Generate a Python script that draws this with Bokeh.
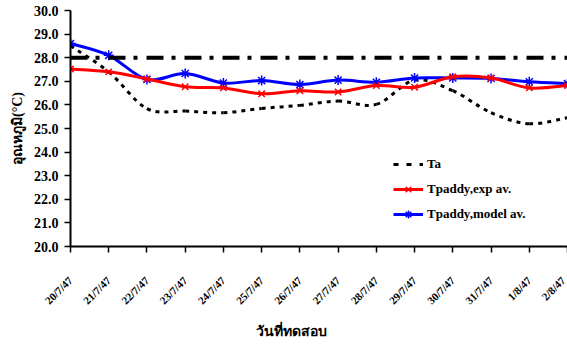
import numpy as np
from bokeh.plotting import figure
from bokeh.models import (FixedTicker, Legend, LegendItem, ColumnDataSource, Title,
                          Span, Range1d, PrintfTickFormatter)
from bokeh.embed import file_html
from bokeh.resources import INLINE

# ---------------- data ----------------
dates = ["20/7/47", "21/7/47", "22/7/47", "23/7/47", "24/7/47", "25/7/47", "26/7/47",
         "27/7/47", "28/7/47", "29/7/47", "30/7/47", "31/7/47", "1/8/47", "2/8/47"]
ta = [28.50, 27.40, 25.84, 25.74, 25.67, 25.85, 25.98, 26.16, 26.02, 27.05, 26.60, 25.67, 25.20, 25.46]
t_exp = [27.52, 27.40, 27.10, 26.77, 26.72, 26.47, 26.60, 26.55, 26.82, 26.75, 27.19, 27.14, 26.72, 26.82]
t_model = [28.60, 28.10, 27.08, 27.33, 26.93, 27.03, 26.86, 27.05, 26.96, 27.14, 27.14, 27.12, 26.98, 26.90]
ref_temp = 28.0
y_ticks = [20, 21, 22, 23, 24, 25, 26, 27, 28, 29, 30]

series_names = ["Ta", "Tpaddy,exp av.", "Tpaddy,model av."]
y_title = "อุณหภูมิ(°C)"
x_title = "วันที่ทดสอบ"

xs = list(range(len(dates)))
nan = float("nan")


def smooth_segments(x, y):
    """Bezier control points (Catmull-Rom style) for an Excel-like smoothed line."""
    X = np.asarray(x, float)
    Y = np.asarray(y, float)
    Xp = np.concatenate([[X[0]], X, [X[-1]]])
    Yp = np.concatenate([[Y[0]], Y, [Y[-1]]])
    i = np.arange(len(X) - 1)
    return dict(
        x0=Xp[i + 1], y0=Yp[i + 1], x1=Xp[i + 2], y1=Yp[i + 2],
        cx0=Xp[i + 1] + (Xp[i + 2] - Xp[i]) / 6.0,
        cy0=Yp[i + 1] + (Yp[i + 2] - Yp[i]) / 6.0,
        cx1=Xp[i + 2] - (Xp[i + 3] - Xp[i + 1]) / 6.0,
        cy1=Yp[i + 2] - (Yp[i + 3] - Yp[i + 1]) / 6.0,
    )


p = figure(width=567, height=349, output_backend="svg", toolbar_location=None,
           x_range=Range1d(0, len(dates) - 1), y_range=Range1d(20, 30),
           min_border_left=70, min_border_right=0, min_border_top=10, min_border_bottom=103)
p.outline_line_color = None
p.background_fill_color = "white"
p.border_fill_color = "white"
p.xgrid.visible = False
p.ygrid.visible = False

serif = "Liberation Serif"

# reference line
p.add_layout(Span(location=ref_temp, dimension="width", line_color="black",
                  line_width=4, line_dash="17 8 4 9"))

# Ta (dotted)
s_ta = smooth_segments(xs, ta)
p.bezier(source=ColumnDataSource(s_ta), x0="x0", y0="y0", x1="x1", y1="y1",
         cx0="cx0", cy0="cy0", cx1="cx1", cy1="cy1",
         line_color="black", line_width=3, line_dash="4 5")
leg_ta = p.line(x=[nan], y=[nan], line_color="black", line_width=3, line_dash="5 8")

# model (blue)
s_m = smooth_segments(xs, t_model)
p.bezier(source=ColumnDataSource(s_m), x0="x0", y0="y0", x1="x1", y1="y1",
         cx0="cx0", cy0="cy0", cx1="cx1", cy1="cy1",
         line_color="#0000ff", line_width=3)
leg_m = p.line(x=[nan], y=[nan], line_color="#0000ff", line_width=3)
sc_m = p.scatter(xs, t_model, marker="asterisk", size=10, line_color="#0000ff", line_width=1.5)

# exp (red)
s_e = smooth_segments(xs, t_exp)
p.bezier(source=ColumnDataSource(s_e), x0="x0", y0="y0", x1="x1", y1="y1",
         cx0="cx0", cy0="cy0", cx1="cx1", cy1="cy1",
         line_color="#ff0000", line_width=3)
leg_e = p.line(x=[nan], y=[nan], line_color="#ff0000", line_width=3)
sc_e = p.scatter(xs, t_exp, marker="x", size=9, line_color="#ff0000", line_width=1.5)

legend = Legend(items=[
    LegendItem(label=series_names[0], renderers=[leg_ta]),
    LegendItem(label=series_names[1], renderers=[leg_e, sc_e]),
    LegendItem(label=series_names[2], renderers=[leg_m, sc_m]),
], location=(323, 22))
legend.padding = 0
legend.margin = 0
legend.spacing = 5
legend.glyph_width = 30
legend.glyph_height = 20
legend.label_height = 20
legend.label_standoff = 4
legend.border_line_color = None
legend.background_fill_alpha = 0
legend.label_text_font = serif
legend.label_text_font_style = "bold"
legend.label_text_font_size = "13px"
legend.label_text_color = "black"
p.add_layout(legend)

# x axis
xa = p.xaxis[0]
xa.ticker = FixedTicker(ticks=xs)
xa.major_label_overrides = {i: d for i, d in enumerate(dates)}
xa.major_label_orientation = np.pi / 4
xa.major_label_text_font = serif
xa.major_label_text_font_style = "bold"
xa.major_label_text_font_size = "11px"
xa.major_label_text_color = "black"
xa.major_label_standoff = 26
xa.axis_line_width = 2
xa.axis_line_color = "black"
xa.major_tick_line_width = 1.5
xa.major_tick_line_color = "black"
xa.major_tick_out = 6
xa.major_tick_in = 0
xa.minor_tick_line_color = None

# y axis
ya = p.yaxis[0]
ya.ticker = FixedTicker(ticks=y_ticks)
ya.formatter = PrintfTickFormatter(format="%.1f")
ya.major_label_text_font = serif
ya.major_label_text_font_style = "bold"
ya.major_label_text_font_size = "14px"
ya.major_label_text_color = "black"
ya.major_label_standoff = 6
ya.axis_line_width = 2
ya.axis_line_color = "black"
ya.major_tick_line_width = 1.5
ya.major_tick_line_color = "black"
ya.major_tick_out = 6
ya.major_tick_in = 0
ya.minor_tick_line_color = None
ya.axis_label = y_title
ya.axis_label_text_font = serif
ya.axis_label_text_font_style = "bold"
ya.axis_label_text_font_size = "14px"
ya.axis_label_text_color = "black"
ya.axis_label_standoff = 6

# x title
p.add_layout(Title(text=x_title, align="left", offset=185, standoff=16,
                   text_font=serif, text_font_style="bold", text_font_size="14px",
                   text_color="black"), "below")

open("out.html", "w").write(file_html(p, INLINE))
